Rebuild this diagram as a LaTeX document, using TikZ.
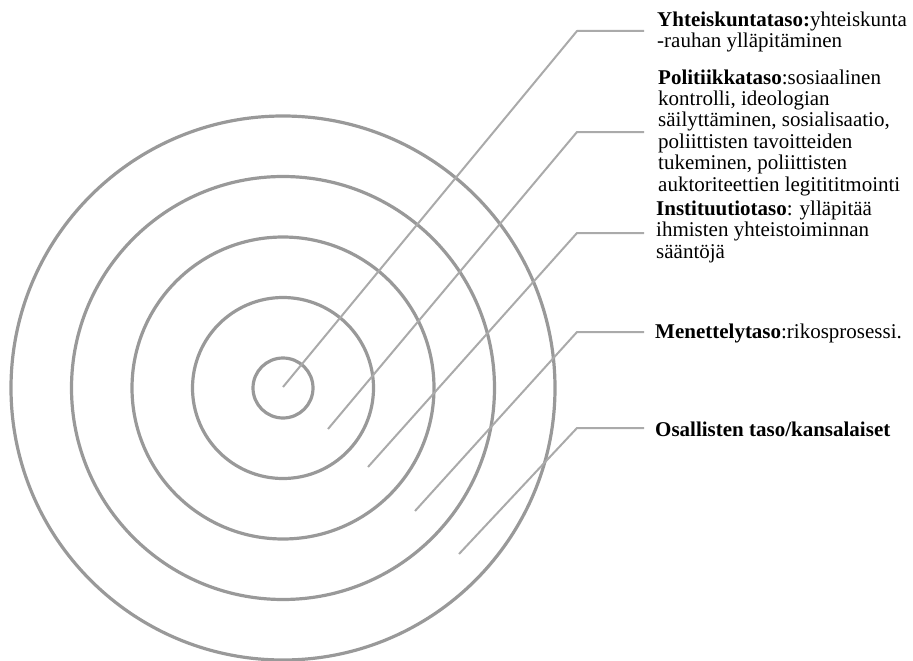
\documentclass[tikz,border=0pt]{standalone}
\usepackage{fontspec}
\setmainfont{Liberation Serif}
\definecolor{ringgray}{HTML}{999999}
\definecolor{leadgray}{HTML}{AAAAAA}
\begin{document}
\begin{tikzpicture}[x=1pt,y=-1pt,
  ring/.style={draw=ringgray,line width=3.2pt,circle,inner sep=0pt},
  lead/.style={draw=leadgray,line width=2pt,line join=round},
  lbl/.style={anchor=base west,align=left,inner sep=0pt,font=\fontsize{21}{21.4}\selectfont}]
\useasboundingbox (0,0) rectangle (913,661);
\coordinate (c) at (283,388);
\node[ring,minimum size=60pt] (r1) at (c) {};
\node[ring,minimum size=181pt] (r2) at (c) {};
\node[ring,minimum size=302pt] (r3) at (c) {};
\node[ring,minimum size=423pt] (r4) at (c) {};
\node[ring,minimum size=544pt] (r5) at (c) {};
% leader coordinates
\coordinate (s1) at (283,387); \coordinate (b1) at (577,31);  \coordinate (e1) at (644,31);
\coordinate (s2) at (328,429); \coordinate (b2) at (577,132); \coordinate (e2) at (644,132);
\coordinate (s3) at (368,467); \coordinate (b3) at (577,233); \coordinate (e3) at (644,233);
\coordinate (s4) at (415,511); \coordinate (b4) at (577,332); \coordinate (e4) at (644,332);
\coordinate (s5) at (459,554); \coordinate (b5) at (577,428); \coordinate (e5) at (644,428);
\draw[lead] (s1) -- (b1) -- (e1);
\draw[lead] (s2) -- (b2) -- (e2);
\draw[lead] (s3) -- (b3) -- (e3);
\draw[lead] (s4) -- (b4) -- (e4);
\draw[lead] (s5) -- (b5) -- (e5);
% labels (base anchor = baseline of the last line)
\node[lbl] (t1) at (657,47.4) {\textbf{Yhteiskuntataso:}yhteiskunta\\-rauhan ylläpitäminen};
\node[lbl] (t2) at (658,191) {\textbf{Politiikkataso}:sosiaalinen\\kontrolli, ideologian\\säilyttäminen, sosialisaatio,\\poliittisten tavoitteiden\\tukeminen, poliittisten\\auktoriteettien legitititmointi};
\node[lbl] (t3) at (656,258) {\textbf{Instituutiotaso}: ylläpitää\\ihmisten yhteistoiminnan\\sääntöjä};
\node[lbl] (t4) at (655,338) {\textbf{Menettelytaso}:rikosprosessi.};
\node[lbl] (t5) at (655,436) {\textbf{Osallisten taso/kansalaiset}};
\end{tikzpicture}
\end{document}
